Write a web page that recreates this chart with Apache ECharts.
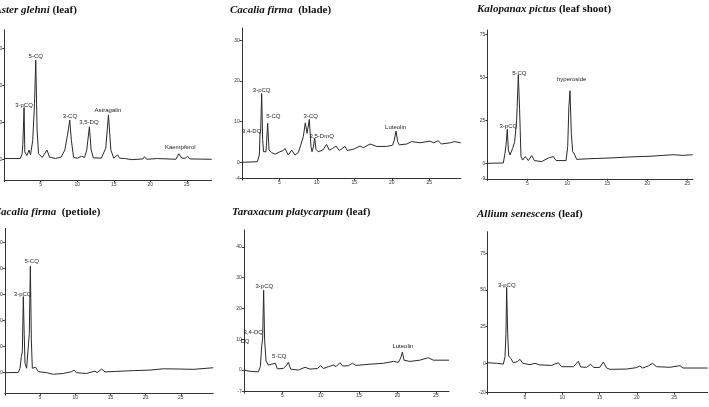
<!DOCTYPE html>
<html>
<head>
<meta charset="utf-8">
<script src="https://cdn.jsdelivr.net/npm/echarts@6/dist/echarts.min.js"></script>
<style>
  html, body { margin: 0; padding: 0; background: #fff; }
  #chart { width: 709px; height: 407px; }
</style>
</head>
<body>
<div id="chart"></div>
<script>
// 保留时间 (min) / 吸收值, 每个色谱图一组

// Aster glehni (leaf)
const asterT = [0, 2.2, 2.45, 2.55, 2.62, 2.72, 2.82, 3.1, 3.4, 3.6, 3.9, 4.15, 4.32, 4.5, 4.7, 5.2, 5.85, 6.0, 6.2, 7.0, 7.8, 8.3, 8.7, 8.97, 9.2, 9.5, 10.0, 10.6, 11.0, 11.3, 11.66, 11.9, 12.2, 13.3, 13.9, 14.27, 14.6, 15.0, 15.5, 15.8, 16.5, 17.5, 19.0, 19.2, 19.5, 21.0, 23.5, 23.9, 24.0, 24.3, 24.8, 25.1, 25.4, 28.4]
const asterV = [0.2, 0.2, 1.5, 4.0, 3.5, 14.0, 2.0, 1.0, 2.5, 1.2, 5, 15, 26.8, 8, 1.5, 0.5, 2.5, 3.0, 0.6, 0.2, 0.6, 2.5, 7, 10.6, 5, 0.5, 0.3, 0.8, 0.5, 2.5, 8.8, 2.5, 0.4, 0.3, 3, 12, 2.5, 0.3, 1.2, 0.3, 0.2, -0.1, 0.1, 0.7, 0, 0.2, 0, 1.5, 1.9, 0.3, 0.3, 0.8, 0.1, 0]
const asterPeakNames = ['3-pCQ', '5-CQ', '3-CQ', '3,5-DQ', 'Astragalin', 'Kaempferol']
const asterPeakT = [2.71, 4.32, 9.0, 11.6, 14.2, 24.1]
const asterPeakV = [14.7, 27.7, 11.7, 9.9, 13.3, 3.1]

// Cacalia firma (blade)
const bladeT = [0, 2.07, 2.34, 2.43, 2.52, 2.65, 2.78, 2.9, 3.23, 3.45, 3.63, 3.98, 4.43, 5.09, 5.54, 5.76, 6.2, 6.65, 7.09, 7.54, 7.85, 8.2, 8.47, 8.7, 8.83, 9.0, 9.23, 9.36, 9.54, 9.72, 9.89, 10.2, 10.8, 11.3, 11.67, 12.1, 12.56, 13.0, 13.76, 14.07, 14.87, 15.76, 16.2, 17.1, 18.0, 19.3, 20.1, 20.34, 20.56, 20.78, 21.0, 22.0, 22.65, 23.76, 25.09, 25.6, 26.2, 26.6, 27.8, 28.4, 29.2]
const bladeV = [0, 0.15, 1.8, 7.1, 8.0, 16.9, 5.6, 2.6, 2.6, 9.6, 3.0, 2.4, 2.0, 2.6, 2.9, 3.4, 1.8, 3.0, 1.8, 2.4, 4.2, 6.3, 9.7, 7.1, 7.5, 10.5, 3.8, 2.6, 3.8, 5.9, 3.2, 2.6, 3.0, 4.4, 3.0, 3.4, 4.0, 2.9, 3.9, 2.9, 3.2, 4.0, 3.6, 4.5, 3.9, 3.9, 4.2, 5.5, 7.7, 5.1, 4.3, 4.5, 5.1, 4.8, 5.2, 4.8, 5.3, 4.5, 4.8, 5.1, 4.8]
const bladePeakNames = ['3-pCQ', '3,4-DQ', '5-CQ', '3-CQ', '3,5-DmQ', 'Luteolin']
const bladePeakT = [2.65, 1.32, 4.2, 9.19, 10.65, 20.5]
const bladePeakV = [17.6, 7.5, 11.2, 11.2, 6.5, 8.7]

// Kalopanax pictus (leaf shoot)
const kaloT = [0, 2.0, 2.21, 2.34, 2.5, 2.63, 2.84, 3.17, 3.42, 3.67, 3.88, 4.04, 4.21, 4.42, 4.75, 5.13, 5.55, 5.88, 6.8, 7.63, 8.25, 8.6, 9.84, 10.05, 10.2, 10.34, 10.5, 10.67, 10.88, 11.17, 12.84, 15.34, 17.84, 20.34, 23.25, 24.5, 25.67]
const kaloV = [0, 0.2, 5.8, 10.7, 19.8, 7.8, 4.8, 8.7, 12.6, 25.2, 51.4, 31.1, 3.9, 1.9, 3.9, 1.6, 4.5, 1.6, 1.0, 3.1, 3.9, 1.6, 1.6, 9.7, 33, 42.2, 17.4, 6.8, 5.4, 2.3, 2.7, 3.1, 3.7, 4.1, 5.0, 4.6, 5.0]
const kaloPeakNames = ['3-pCQ', '5-CQ', 'hyperoside']
const kaloPeakT = [2.63, 4.0, 10.55]
const kaloPeakV = [21.7, 52.3, 48.8]

// Cacalia firma (petiole)
const petioleT = [0, 1.92, 2.16, 2.35, 2.49, 2.63, 2.73, 2.87, 3.1, 3.34, 3.48, 3.63, 3.77, 3.91, 4.1, 4.38, 4.76, 5.95, 6.89, 8.31, 9.5, 9.83, 10.2, 11.6, 12.8, 13.1, 13.76, 14.23, 15.9, 18.26, 20.6, 22.5, 24.9, 26.8, 29.6]
const petioleV = [0, 0.1, 1.7, 6.2, 8.1, 29.3, 17.7, 3.6, 1.7, 2.3, 15.1, 41.0, 12.6, 1.7, 1.0, 2.1, 0.4, 0, -0.6, -0.3, 0.4, 1.0, 0, -0.3, 0.6, 0, 1.4, 0.3, 0.5, 0.8, 1.0, 1.5, 1.4, 1.3, 1.9]
const petiolePeakNames = ['3-pCQ', '5-CQ']
const petiolePeakT = [2.54, 3.82]
const petiolePeakV = [30.3, 43]

// Taraxacum platycarpum (leaf)
const taraT = [0, 0.8, 1.88, 2.14, 2.31, 2.44, 2.57, 2.7, 2.88, 3.18, 3.62, 3.83, 4.09, 4.35, 5.13, 5.57, 5.79, 6.09, 7.09, 7.96, 8.6, 9.56, 10.0, 10.34, 11.0, 11.65, 12.0, 12.51, 12.86, 13.6, 14.12, 14.6, 16.4, 18.16, 19.46, 20.1, 20.41, 20.63, 20.85, 21.6, 22.9, 24.0, 24.66, 26.7]
const taraV = [0, -0.4, -0.6, 1.1, 7.6, 10.3, 25.9, 9.7, 3.0, 1.6, 1.9, 1.4, 2.2, 0.4, 0.5, 1.6, 2.5, 0.3, 0, 0.9, 0.3, 0.5, 1.4, 0.5, 1.1, 1.6, 1.1, 2.4, 1.3, 1.4, 2.2, 1.5, 1.9, 2.2, 2.8, 2.5, 3.9, 5.8, 3.2, 2.8, 3.2, 4.0, 3.2, 3.2]
const taraPeakNames = ['3-pCQ', '3,4-DQ', 'DQ', '5-CQ', 'Luteolin']
const taraPeakT = [2.66, 1.22, 0.14, 4.6, 20.7]
const taraPeakV = [27.3, 12.2, 9.2, 4.5, 7.8]

// Allium senescens (leaf)
const alliumT = [0, 1.2, 2.1, 2.32, 2.45, 2.54, 2.68, 2.81, 3.08, 3.44, 3.97, 4.33, 4.69, 5.67, 6.34, 7.0, 8.57, 9.47, 9.9, 11.48, 11.92, 12.15, 12.46, 13.26, 13.8, 14.25, 15.05, 15.5, 15.95, 16.4, 18.63, 19.97, 20.4, 20.77, 21.53, 22.1, 22.65, 24.43, 25.78, 26.2, 29.5]
const alliumV = [0.4, 0, -0.5, 4.5, 20.4, 51.7, 20.4, 5.0, 3.4, 0.4, 1.1, 2.7, 0, -0.9, 0, -1.1, -1.4, 0.4, -2.3, -2.3, 0, 1.4, -2.5, -2.7, -0.7, -2.9, -2.7, 0.9, -3.2, -4.1, -3.9, -2.9, -1.8, -3.2, -1.8, 0, -2.3, -2.7, -1.6, -3.2, -3.2]
const alliumPeakNames = ['3-pCQ']
const alliumPeakT = [2.55]
const alliumPeakV = [53.3]

// 坐标轴刻度
const xTicks = [0, 5, 10, 15, 20, 25]
const xLabels = [5, 10, 15, 20, 25]
const asterYTicks = [0, 10, 20, 30]
const bladeYTicks = [-4, 0, 10, 20, 30]
const kaloYTicks = [-9, 0, 25, 50, 75]
const petioleYTicks = [0, 10, 20, 30, 40, 50]
const taraYTicks = [-7, 0, 10, 20, 30, 40]
const alliumYTicks = [-20, 0, 25, 50, 75]

const titles = [
  '{i|Aster glehni} (leaf)',
  '{i|Cacalia firma}  (blade)',
  '{i|Kalopanax pictus} (leaf shoot)',
  '{i|Cacalia firma}  (petiole)',
  '{i|Taraxacum platycarpum} (leaf)',
  '{i|Allium senescens} (leaf)'
]

// 各面板的位置与坐标范围
const panels = [
  { t: asterT, v: asterV, pn: asterPeakNames, pt: asterPeakT, pv: asterPeakV, yTicks: asterYTicks, xMax: 28.4, yMin: -5.6, yMax: 35, grid: [4.2, 29.8, 207.5, 150.2], title: [-5.6, 5] },
  { t: bladeT, v: bladeV, pn: bladePeakNames, pt: bladePeakT, pv: bladePeakV, yTicks: bladeYTicks, xMax: 29.2, yMin: -4, yMax: 33, grid: [241.8, 28, 219, 150.6], title: [230, 5] },
  { t: kaloT, v: kaloV, pn: kaloPeakNames, pt: kaloPeakT, pv: kaloPeakV, yTicks: kaloYTicks, xMax: 25.7, yMin: -9, yMax: 77.5, grid: [487.3, 30, 205.6, 148.8], title: [477, 4] },
  { t: petioleT, v: petioleV, pn: petiolePeakNames, pt: petiolePeakT, pv: petiolePeakV, yTicks: petioleYTicks, xMax: 29.6, yMin: -8, yMax: 55.5, grid: [4.8, 228.4, 208.4, 165.1], title: [-6.3, 207] },
  { t: taraT, v: taraV, pn: taraPeakNames, pt: taraPeakT, pv: taraPeakV, yTicks: taraYTicks, xMax: 26.7, yMin: -7, yMax: 45.5, grid: [243.9, 229.9, 205.1, 161.7], title: [232, 207] },
  { t: alliumT, v: alliumV, pn: alliumPeakNames, pt: alliumPeakT, pv: alliumPeakV, yTicks: alliumYTicks, xMax: 29.5, yMin: -20, yMax: 89.6, grid: [487.7, 231.7, 220, 161], title: [477, 209] }
]

const axisColor = '#333'
const lineColor = '#2a2a2a'
const labelFont = { fontSize: 5, color: '#333', fontFamily: 'Liberation Sans' }

const option = {
  animation: false,
  backgroundColor: '#fff',
  title: panels.map((p, i) => ({
    text: titles[i],
    left: p.title[0],
    top: p.title[1],
    padding: 0,
    textStyle: {
      fontFamily: 'Liberation Serif',
      fontWeight: 'bold',
      fontSize: 11,
      color: '#111',
      rich: {
        i: { fontFamily: 'Liberation Serif', fontWeight: 'bold', fontStyle: 'italic', fontSize: 11, color: '#111' }
      }
    }
  })),
  grid: panels.map((p) => ({
    left: p.grid[0],
    top: p.grid[1],
    width: p.grid[2],
    height: p.grid[3],
    containLabel: false,
    outerBoundsMode: 'none'
  })),
  xAxis: panels.map((p, i) => ({
    type: 'value',
    gridIndex: i,
    min: 0,
    max: p.xMax,
    axisLine: { show: true, onZero: false, lineStyle: { color: axisColor, width: 1 } },
    axisTick: { show: true, length: 2, customValues: xTicks, lineStyle: { color: axisColor } },
    axisLabel: { ...labelFont, margin: 2, customValues: xLabels },
    splitLine: { show: false }
  })),
  yAxis: panels.map((p, i) => ({
    type: 'value',
    gridIndex: i,
    min: p.yMin,
    max: p.yMax,
    axisLine: { show: true, onZero: false, lineStyle: { color: axisColor, width: 1 } },
    axisTick: { show: true, length: 2, customValues: p.yTicks, lineStyle: { color: axisColor } },
    axisLabel: { ...labelFont, margin: 2, customValues: p.yTicks },
    splitLine: { show: false }
  })),
  series: panels.map((p, i) => ({
    type: 'line',
    xAxisIndex: i,
    yAxisIndex: i,
    showSymbol: false,
    symbol: 'none',
    lineStyle: { color: lineColor, width: 1 },
    data: p.t.map((t, k) => [t, p.v[k]]),
    markPoint: {
      symbol: 'circle',
      symbolSize: 0,
      silent: true,
      label: {
        show: true,
        position: 'inside',
        formatter: '{b}',
        fontSize: 6,
        color: '#222',
        fontFamily: 'Liberation Sans Narrow, Liberation Sans'
      },
      data: p.pn.map((n, k) => ({ name: n, coord: [p.pt[k], p.pv[k]] }))
    }
  }))
}

const chart = echarts.init(document.getElementById('chart'), null, { renderer: 'canvas' })
chart.setOption(option)
</script>
</body>
</html>
